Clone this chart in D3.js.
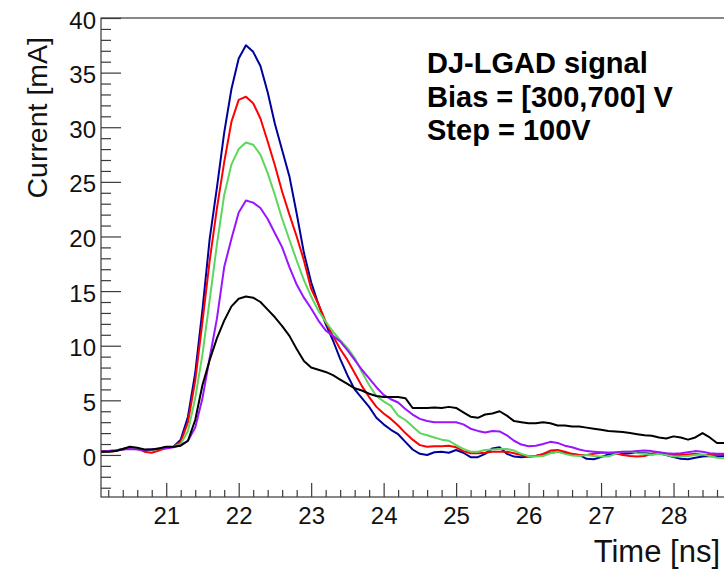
<!DOCTYPE html>
<html>
<head>
<meta charset="utf-8">
<script src="https://cdn.jsdelivr.net/npm/d3@7"></script>
<style>
  html, body { margin: 0; padding: 0; background: #fff; }
  svg { display: block; font-family: "Liberation Sans", Arial, Helvetica, sans-serif; }
</style>
</head>
<body>
<svg id="chart" width="724" height="569"></svg>
<script>
// ---- data ----
const time = [20.1,20.2,20.3,20.4,20.5,20.6,20.7,20.8,20.9,21.0,
  21.1,21.2,21.3,21.4,21.5,21.6,21.7,21.8,21.9,22.0,
  22.1,22.2,22.3,22.4,22.5,22.6,22.7,22.8,22.9,23.0,
  23.1,23.2,23.3,23.4,23.5,23.6,23.7,23.8,23.9,24.0,
  24.1,24.2,24.3,24.4,24.5,24.6,24.7,24.8,24.9,25.0,
  25.1,25.2,25.3,25.4,25.5,25.6,25.7,25.8,25.9,26.0,
  26.1,26.2,26.3,26.4,26.5,26.6,26.7,26.8,26.9,27.0,
  27.1,27.2,27.3,27.4,27.5,27.6,27.7,27.8,27.9,28.0,
  28.1,28.2,28.3,28.4,28.5,28.6,28.7];

const bias700 = [0.3,0.35,0.4,0.55,0.7,0.55,0.45,0.5,0.6,0.7,
  0.75,1.4,3.5,7.5,13.3,19.8,24.5,29.5,33.5,36.3,
  37.5,36.9,35.6,33.2,30.3,27.9,25.5,22.1,18.5,15.8,
  13.8,12.0,10.5,8.8,7.3,6.0,5.2,4.4,3.4,2.8,
  2.3,1.9,1.2,0.5,0.1,0.0,0.25,0.3,0.2,0.45,
  0.2,-0.2,-0.2,0.1,0.6,0.7,0.1,-0.15,-0.2,-0.15,
  -0.1,0.05,0.2,0.3,0.2,0.05,0.0,-0.35,-0.4,-0.2,
  0.05,0.1,0.1,0.15,0.2,0.15,0.1,0.15,0.0,-0.2,
  -0.35,-0.4,-0.25,-0.15,-0.1,-0.15,-0.1];

const bias600 = [0.35,0.3,0.35,0.5,0.65,0.55,0.3,0.2,0.4,0.65,
  0.75,1.2,3.0,6.8,12.2,17.8,22.6,26.8,30.5,32.5,
  32.8,32.2,30.8,28.7,26.5,24.1,22.0,20.0,17.8,15.2,
  13.8,12.2,10.9,9.7,8.7,7.5,6.3,5.3,4.4,3.8,
  3.3,2.7,2.0,1.4,0.9,0.75,0.8,0.8,0.85,0.7,
  0.35,0.15,0.15,0.2,0.3,0.3,0.3,0.15,0.0,-0.15,
  -0.1,0.1,0.4,0.45,0.3,0.1,0.0,0.0,0.1,0.2,
  0.2,0.15,0.0,-0.1,-0.15,-0.1,0.1,0.2,0.1,0.0,
  0.0,0.05,0.1,0.0,0.0,0.0,0.05];

const bias500 = [0.25,0.3,0.4,0.55,0.65,0.55,0.45,0.45,0.55,0.7,
  0.75,1.0,2.2,5.2,9.2,14.2,19.3,23.8,26.6,28.0,
  28.6,28.4,27.5,25.8,23.8,21.6,19.7,17.8,16.0,14.5,
  13.2,12.2,11.3,10.5,9.8,8.9,7.6,6.4,5.4,4.9,
  4.5,3.6,3.2,2.6,2.0,1.8,1.6,1.4,1.3,0.9,
  0.55,0.3,0.3,0.45,0.5,0.55,0.55,0.4,0.1,-0.1,
  -0.15,-0.1,0.15,0.3,0.1,-0.05,-0.1,0.0,-0.1,-0.15,
  -0.15,0.1,0.3,0.3,0.15,0.1,0.0,0.1,0.0,-0.15,
  -0.15,-0.1,0.0,0.05,-0.1,-0.25,-0.3];

const bias400 = [0.3,0.35,0.4,0.5,0.55,0.5,0.45,0.5,0.55,0.6,
  0.7,0.9,1.3,2.5,5.2,8.9,12.5,17.2,19.8,22.2,
  23.3,23.1,22.6,21.6,20.3,19.0,17.2,15.6,14.4,13.4,
  12.3,11.4,10.9,10.4,9.6,8.7,7.8,7.0,6.2,5.5,
  5.1,4.8,4.2,3.7,3.3,3.1,3.0,3.0,3.0,3.0,
  2.8,2.4,2.2,2.05,2.2,2.15,1.8,1.3,0.95,0.8,
  0.85,1.0,1.2,1.1,0.85,0.7,0.5,0.35,0.3,0.25,
  0.2,0.25,0.3,0.3,0.35,0.4,0.35,0.25,0.15,0.1,
  0.15,0.25,0.35,0.3,0.15,0.1,0.1];

const bias300 = [0.3,0.3,0.35,0.55,0.75,0.65,0.5,0.5,0.6,0.75,
  0.75,0.85,1.3,3.2,6.4,8.7,10.7,12.3,13.6,14.3,
  14.5,14.4,14.0,13.3,12.6,11.8,10.9,9.7,8.6,8.0,
  7.8,7.6,7.3,6.9,6.5,6.1,5.9,5.6,5.4,5.3,
  5.3,5.3,5.2,4.3,4.3,4.3,4.35,4.3,4.4,4.3,
  3.9,3.5,3.4,3.7,3.8,4.0,3.6,3.1,3.0,2.9,
  2.9,3.0,2.9,2.7,2.7,2.6,2.6,2.5,2.4,2.3,
  2.2,2.15,2.1,2.0,1.9,1.8,1.75,1.6,1.5,1.7,
  1.6,1.4,1.6,2.0,1.6,1.1,1.1];

const seriesNames = ["700 V", "600 V", "500 V", "400 V", "300 V"];
const seriesColors = ["#00009c", "#ff0000", "#5cd65c", "#9b14ff", "#000000"];
const seriesValues = [bias700, bias600, bias500, bias400, bias300];

const xMajorTicks = [21, 22, 23, 24, 25, 26, 27, 28];
const yMajorTicks = [0, 5, 10, 15, 20, 25, 30, 35, 40];

const xTitle = "Time [ns]";
const yTitle = "Current [mA]";
const infoLines = ["DJ-LGAD signal", "Bias = [300,700] V", "Step = 100V"];

// ---- layout ----
const svg = d3.select("#chart");
const pLeft = 101, pTop = 18, pBottom = 497, pRight = 746;

const x = d3.scaleLinear().domain([20.1, 29.0]).range([pLeft, pRight]);
const y = d3.scaleLinear().domain([-3.85, 40]).range([pBottom, pTop]);

svg.append("defs").append("clipPath").attr("id", "plotclip")
  .append("rect").attr("x", pLeft).attr("y", pTop)
  .attr("width", pRight - pLeft).attr("height", pBottom - pTop);

// curves
const line = d3.line().x(d => x(d[0])).y(d => y(d[1]));
const gCurves = svg.append("g").attr("clip-path", "url(#plotclip)");
seriesValues.forEach((vals, i) => {
  gCurves.append("path")
    .datum(time.map((t, k) => [t, vals[k]]))
    .attr("fill", "none")
    .attr("stroke", seriesColors[i])
    .attr("stroke-width", 2)
    .attr("stroke-linejoin", "round")
    .attr("d", line);
});

// frame
svg.append("rect").attr("x", pLeft).attr("y", pTop)
  .attr("width", pRight - pLeft).attr("height", pBottom - pTop)
  .attr("fill", "none").attr("stroke", "#3a3a3a").attr("stroke-width", 1.2);

// x axis
const xMinor = d3.range(20.2, 29.0, 0.2).filter(v => Math.abs(v - Math.round(v)) > 0.01);
const gxMinor = svg.append("g").attr("transform", `translate(0,${pBottom})`)
  .call(d3.axisBottom(x).tickValues(xMinor).tickSize(-7).tickSizeOuter(0).tickFormat(""));
const gx = svg.append("g").attr("transform", `translate(0,${pBottom})`)
  .call(d3.axisBottom(x).tickValues(xMajorTicks).tickSize(-14).tickSizeOuter(0).tickPadding(10).tickFormat(d3.format("d")));

// y axis
const yMinor = d3.range(-3, 40, 1).filter(v => v % 5 !== 0);
const gyMinor = svg.append("g").attr("transform", `translate(${pLeft},0)`)
  .call(d3.axisLeft(y).tickValues(yMinor).tickSize(-10).tickSizeOuter(0).tickFormat(""));
const gy = svg.append("g").attr("transform", `translate(${pLeft},0)`)
  .call(d3.axisLeft(y).tickValues(yMajorTicks).tickSize(-20).tickSizeOuter(0).tickPadding(5).tickFormat(d3.format("d")));

[gxMinor, gx, gyMinor, gy].forEach(g => {
  g.select(".domain").remove();
  g.selectAll(".tick line").attr("stroke", "#3a3a3a").attr("stroke-width", 1.2);
});
gx.selectAll(".tick text").attr("font-size", 24).attr("fill", "#111")
  .attr("font-family", "Liberation Sans, Arial, sans-serif");
gy.selectAll(".tick text").attr("font-size", 24).attr("fill", "#111")
  .attr("font-family", "Liberation Sans, Arial, sans-serif").attr("dy", "0.42em");

// titles
svg.append("text").attr("x", 720).attr("y", 562)
  .attr("text-anchor", "end").attr("font-size", 31).attr("fill", "#111")
  .text(xTitle);
svg.append("text")
  .attr("transform", "translate(47,37) rotate(-90)")
  .attr("text-anchor", "end").attr("font-size", 28.5).attr("fill", "#111")
  .text(yTitle);

// info text
infoLines.forEach((t, i) => {
  svg.append("text").attr("x", 427).attr("y", 73 + i * 33.5)
    .attr("font-size", 29).attr("font-weight", "bold").attr("fill", "#000")
    .text(t);
});
</script>
</body>
</html>
